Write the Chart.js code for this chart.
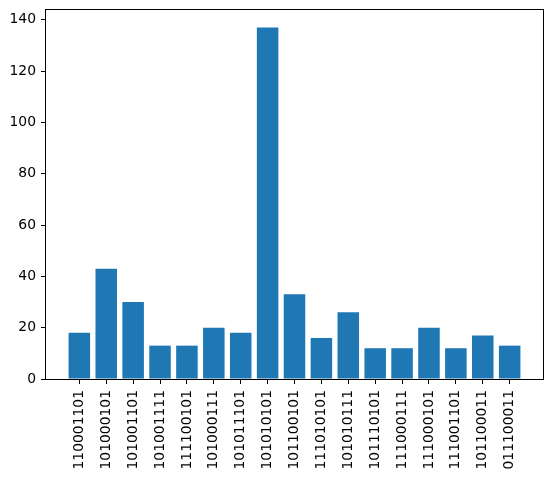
<!DOCTYPE html>
<html>
<head>
<meta charset="utf-8">
<script src="https://cdn.jsdelivr.net/npm/chart.js@4"></script>
<style>
  body { margin: 0; background: #fff; }
</style>
</head>
<body>
<canvas id="chart" width="552" height="478"></canvas>
<script>
const labels = ['110001101', '101000101', '101001101', '101001111', '111100101', '101000111',
    '101011101', '101010101', '101100101', '111010101', '101010111', '101110101',
    '111000111', '111000101', '111001101', '101100011', '011100011'];
const counts = [18, 43, 30, 13, 13, 20, 18, 137, 33, 16, 26, 12, 12, 20, 12, 17, 13];
const yTicks = [0, 20, 40, 60, 80, 100, 120, 140];

// frame around the plot area (matplotlib spines)
const frame = {
    id: 'frame',
    afterDraw(chart) {
        const { ctx, chartArea: a } = chart;
        ctx.save();
        ctx.strokeStyle = '#000';
        ctx.lineWidth = 1;
        ctx.strokeRect(Math.round(a.left) - 0.5, Math.round(a.top) - 0.5,
            Math.round(a.right - a.left) + 1, Math.round(a.bottom - a.top) + 1);
        ctx.restore();
    }
};

Chart.defaults.font.family = 'DejaVu Sans';
Chart.defaults.font.size = 13.9;
Chart.defaults.color = '#000';

new Chart(document.getElementById('chart'), {
    type: 'bar',
    data: {
        datasets: [{
            data: counts.map((v, i) => ({ x: i, y: v })),
            backgroundColor: '#1f77b4',
            barPercentage: 0.8,
            categoryPercentage: 1.0
        }]
    },
    options: {
        responsive: false,
        animation: false,
        devicePixelRatio: 1,
        layout: { padding: { top: 10, right: 9, left: 0, bottom: 0 } },
        plugins: { legend: { display: false }, tooltip: { enabled: false } },
        scales: {
            x: {
                type: 'linear',
                offset: false,
                min: -1.24,
                max: 17.24,
                grid: { offset: false, drawOnChartArea: false, drawTicks: true, tickLength: 5, tickColor: '#000' },
                border: { display: false },
                afterBuildTicks: axis => { axis.ticks = labels.map((_, i) => ({ value: i })); },
                afterFit: axis => { axis.height = 99; axis.paddingLeft = 0; axis.paddingRight = 0; },
                ticks: {
                    autoSkip: false,
                    minRotation: 90,
                    maxRotation: 90,
                    padding: 6,
                    callback: v => labels[v]
                }
            },
            y: {
                min: 0,
                max: 143.85,
                grid: { drawOnChartArea: false, drawTicks: true, tickLength: 5, tickColor: '#000' },
                border: { display: false },
                afterBuildTicks: axis => { axis.ticks = yTicks.map(v => ({ value: v })); },
                afterFit: axis => { axis.width = 46; axis.paddingTop = 0; axis.paddingBottom = 0; },
                ticks: { padding: 5 }
            }
        }
    },
    plugins: [frame]
});
</script>
</body>
</html>
